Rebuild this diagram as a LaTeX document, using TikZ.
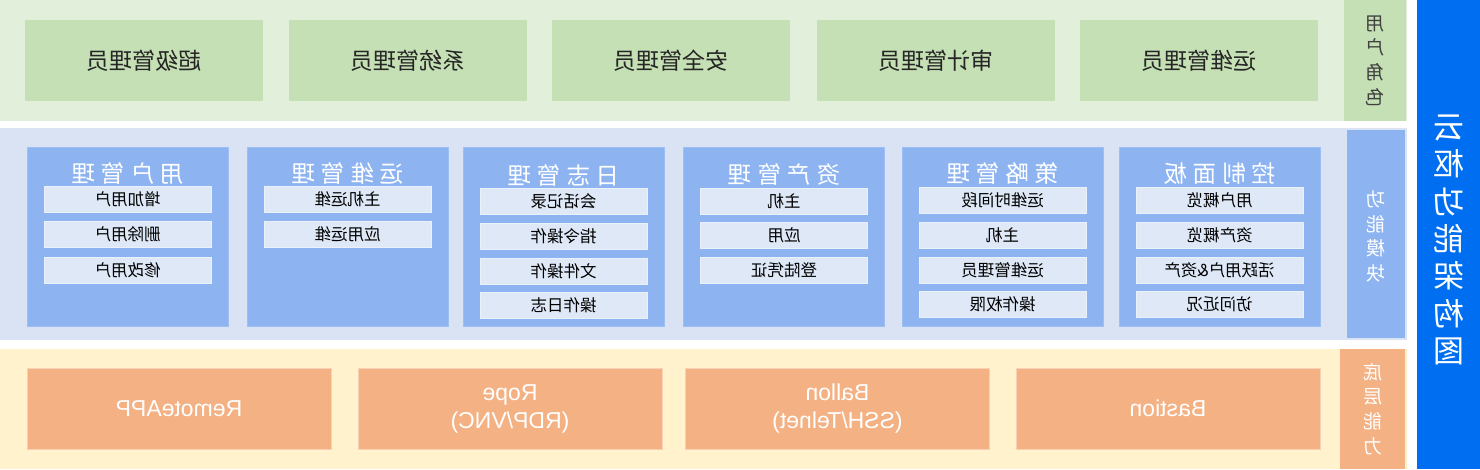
\documentclass[tikz,border=0pt]{standalone}
\usepackage{fontspec}
\setmainfont{Liberation Sans}
\newfontfamily\cjk{Noto Sans CJK SC}
\definecolor{bandgreen}{HTML}{E2EFDA}
\definecolor{boxgreen}{HTML}{C5E0B4}
\definecolor{bandblue}{HTML}{DAE3F3}
\definecolor{modblue}{HTML}{8DB4F1}
\definecolor{itemblue}{HTML}{DEE8F6}
\definecolor{bandyellow}{HTML}{FFF2CC}
\definecolor{boxorange}{HTML}{F4B183}
\definecolor{barblue}{HTML}{006EF0}
\newcommand\gp{\hspace{6pt}}
\tikzset{
  every node/.style={xscale=-1, inner sep=0pt, outer sep=0pt, rectangle},
  rolebox/.style={fill=boxgreen, minimum width=238pt, minimum height=81pt,
    font=\cjk\fontsize{23}{26}\selectfont, text=black!85},
  modbox/.style={fill=modblue, draw=modblue!85!white, line width=0.8pt,
    minimum width=201pt, minimum height=179pt},
  modtitle/.style={font=\cjk\fontsize{23.5}{26}\selectfont, text=white},
  itembox/.style={fill=itemblue, draw=itemblue!60!white, line width=0.6pt,
    minimum width=167pt, minimum height=26pt,
    font=\cjk\fontsize{16.5}{18}\selectfont, text=black},
  basebox/.style={fill=boxorange, draw=boxorange!60!white, line width=1pt,
    minimum width=304pt, minimum height=81pt, align=center,
    font=\fontsize{23}{28}\selectfont, text=white},
  sidelabel/.style={font=\cjk\fontsize{19}{24.7}\selectfont, align=center},
  bigtitle/.style={font=\cjk\fontsize{31}{37.3}\selectfont, text=white, align=center}
}
\begin{document}
\begin{tikzpicture}[x=1pt,y=-1pt]
\useasboundingbox (0,0) rectangle (1480,469);
% bands
\node[fill=bandgreen, minimum width=1407pt, minimum height=121pt] (topband) at (703.5,60.5) {};
\node[fill=bandblue, minimum width=1407pt, minimum height=212pt] (midband) at (703.5,234) {};
\node[fill=bandyellow, minimum width=1407pt, minimum height=120pt] (botband) at (703.5,409) {};
\node[fill=barblue, minimum width=63pt, minimum height=469pt] (bar) at (1448.5,234.5) {};
% side labels
\node[fill=boxgreen, minimum width=62pt, minimum height=121pt] (topl) at (1375,60.5) {};
\node[sidelabel, text=black!75] (topltext) at (1375,60.5) {用\\户\\角\\色};
\node[fill=modblue, minimum width=58pt, minimum height=208pt] (midl) at (1376,234) {};
\node[sidelabel, text=white] (midltext) at (1376,236.5) {功\\能\\模\\块};
\node[fill=boxorange, minimum width=65pt, minimum height=120pt] (botl) at (1372.5,409) {};
\node[sidelabel, text=white] (botltext) at (1372.5,409) {底\\层\\能\\力};
\node[bigtitle] (bartext) at (1448.5,240) {云\\枢\\功\\能\\架\\构\\图};
% roles
\node[rolebox] (r1) at (144,60.5) {超级管理员};
\node[rolebox] (r2) at (407.5,60.5) {系统管理员};
\node[rolebox] (r3) at (671,60.5) {安全管理员};
\node[rolebox] (r4) at (935.5,60.5) {审计管理员};
\node[rolebox] (r5) at (1199,60.5) {运维管理员};
% modules
\node[modbox] (m1) at (127.5,236.5) {};
\node[modtitle] (m1t) at (127.5,174) {用\gp 户\gp 管\gp 理};
\node[itembox] (m1a) at (127.5,199) {增加用户};
\node[itembox] (m1b) at (127.5,234.5) {删除用户};
\node[itembox] (m1c) at (127.5,270) {修改用户};

\node[modbox] (m2) at (347.5,236.5) {};
\node[modtitle] (m2t) at (347.5,174) {运\gp 维\gp 管\gp 理};
\node[itembox] (m2a) at (347.5,199) {主机运维};
\node[itembox] (m2b) at (347.5,234.5) {应用运维};

\node[modbox] (m3) at (563.5,236.5) {};
\node[modtitle] (m3t) at (563.5,176) {日\gp 志\gp 管\gp 理};
\node[itembox] (m3a) at (563.5,201) {会话记录};
\node[itembox] (m3b) at (563.5,236) {指令操作};
\node[itembox] (m3c) at (563.5,271) {文件操作};
\node[itembox] (m3d) at (563.5,305) {操作日志};

\node[modbox] (m4) at (784,236.5) {};
\node[modtitle] (m4t) at (784,175) {资\gp 产\gp 管\gp 理};
\node[itembox] (m4a) at (784,201) {主机};
\node[itembox] (m4b) at (784,235) {应用};
\node[itembox] (m4c) at (784,270) {登陆凭证};

\node[modbox] (m5) at (1002.5,236.5) {};
\node[modtitle] (m5t) at (1002.5,174) {策\gp 略\gp 管\gp 理};
\node[itembox] (m5a) at (1002.5,200) {运维时间段};
\node[itembox] (m5b) at (1002.5,235) {主机};
\node[itembox] (m5c) at (1002.5,270) {运维管理员};
\node[itembox] (m5d) at (1002.5,304) {操作权限};

\node[modbox] (m6) at (1219.5,236.5) {};
\node[modtitle] (m6t) at (1219.5,174) {控\gp 制\gp 面\gp 板};
\node[itembox] (m6a) at (1219.5,200) {用户概览};
\node[itembox] (m6b) at (1219.5,235) {资产概览};
\node[itembox] (m6c) at (1219.5,270) {活跃用户\&资产};
\node[itembox] (m6d) at (1219.5,304) {访问近况};
% base
\node[basebox] (b1) at (179,408.5) {RemoteAPP};
\node[basebox] (b2) at (510,408.5) {Rope\\(RDP/VNC)};
\node[basebox] (b3) at (837.5,408.5) {Ballon\\(SSH/Telnet)};
\node[basebox] (b4) at (1168,408.5) {Bastion};
\end{tikzpicture}
\end{document}
